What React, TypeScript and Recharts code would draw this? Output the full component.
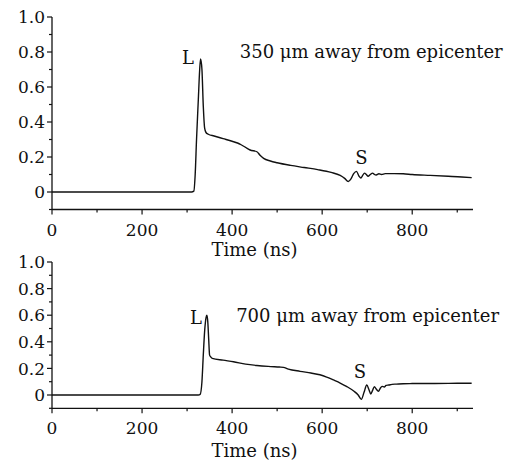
import { LineChart, Line, XAxis, YAxis, ReferenceDot } from "recharts";

const FONT = "DejaVu Serif";
const INK = "#111";

// x ticks (ns) and y ticks (signal)
const X_TICKS = [0, 100, 200, 300, 400, 500, 600, 700, 800, 900];
const Y_TICKS = [-0.1, 0, 0.1, 0.2, 0.3, 0.4, 0.5, 0.6, 0.7, 0.8, 0.9, 1.0];

// 350 um trace
const TOP_T = [
  0, 310, 315, 318, 321, 325, 328, 330, 333, 336, 339, 342, 347, 360, 380, 400,
  412, 420, 430, 440, 455, 462, 470, 485, 500, 530, 560, 590, 620, 640, 650, 658,
  664, 670, 676, 682, 686, 690, 694, 698, 702, 707, 712, 716, 720, 726, 732, 740,
  760, 780, 800, 840, 880, 910, 932,
];
const TOP_V = [
  0, 0, 0.005, 0.1, 0.3, 0.53, 0.7, 0.76, 0.7, 0.49, 0.365, 0.34, 0.33, 0.32, 0.305, 0.29,
  0.28, 0.27, 0.255, 0.24, 0.23, 0.21, 0.192, 0.177, 0.167, 0.152, 0.14, 0.128, 0.112, 0.095, 0.078, 0.06,
  0.075, 0.105, 0.118, 0.09, 0.08, 0.095, 0.108, 0.1, 0.09, 0.1, 0.108, 0.1, 0.097, 0.104, 0.1, 0.105,
  0.105, 0.104, 0.1, 0.095, 0.09, 0.086, 0.082,
];

// 700 um trace
const BOT_T = [
  0, 325, 329, 333, 336, 339, 342, 344, 346, 348, 350, 353, 356, 380, 403, 430,
  455, 480, 505, 514, 525, 551, 575, 595, 610, 625, 640, 655, 670, 680, 687, 693,
  699, 704, 708, 712, 716, 720, 725, 729, 733, 738, 742, 748, 755, 765, 780, 800,
  850, 900, 932,
];
const BOT_V = [
  0, 0, 0.005, 0.1, 0.3, 0.48, 0.58, 0.6, 0.55, 0.42, 0.3, 0.285, 0.276, 0.262, 0.25, 0.232,
  0.222, 0.215, 0.21, 0.208, 0.195, 0.178, 0.165, 0.152, 0.135, 0.113, 0.09, 0.063, 0.03, 0, -0.033, 0.02,
  0.075, 0.04, 0.008, 0.035, 0.063, 0.045, 0.028, 0.05, 0.065, 0.06, 0.072, 0.075, 0.08, 0.082, 0.085, 0.086,
  0.087, 0.088, 0.088,
];

const toRows = (ts: number[], vs: number[]) => ts.map((t, i) => ({ t, v: vs[i] }));

const YTick = (props: any) => {
  const { x, y, payload } = props;
  const n = Math.round(payload.value * 10);
  const major = n >= 0 && n % 2 === 0;
  return (
    <g>
      <line x1={x - (major ? 5 : 3)} x2={x} y1={y} y2={y} stroke={INK} strokeWidth={1.2} />
      {major && (
        <text x={x - 7} y={y} dy="0.36em" textAnchor="end" fontFamily={FONT} fontSize={17} fill={INK}>
          {n === 0 ? "0" : (n / 10).toFixed(1)}
        </text>
      )}
    </g>
  );
};

const XTick = (props: any) => {
  const { x, y, payload } = props;
  const major = payload.value % 200 === 0;
  return (
    <g>
      <line x1={x} x2={x} y1={y} y2={y + (major ? 5 : 3)} stroke={INK} strokeWidth={1.2} />
      {major && (
        <text x={x} y={y + 26} textAnchor="middle" fontFamily={FONT} fontSize={17} fill={INK}>
          {payload.value}
        </text>
      )}
    </g>
  );
};

const textLabel = (value: string) => ({
  value,
  position: "center" as const,
  fill: INK,
  fontSize: 18,
  fontFamily: FONT,
});

interface PanelProps {
  rows: { t: number; v: number }[];
  top: number;
  height: number;
  plotTop: number;
  plotHeight: number;
  caption: string;
  captionAt: [number, number];
  lAt: [number, number];
  sAt: [number, number];
}

function Panel({ rows, top, height, plotTop, plotHeight, caption, captionAt, lAt, sAt }: PanelProps) {
  const axisH = height - plotTop - plotHeight;
  return (
    <div style={{ position: "absolute", left: 0, top }}>
      <LineChart width={515} height={height} data={rows} margin={{ top: plotTop, right: 42, left: 0, bottom: 0 }}>
        <XAxis
          type="number"
          dataKey="t"
          domain={[0, 935]}
          ticks={X_TICKS}
          interval={0}
          height={axisH}
          tickSize={0}
          tickMargin={0}
          tick={<XTick />}
          axisLine={{ stroke: INK, strokeWidth: 1.3 }}
          allowDataOverflow
          label={{
            value: "Time (ns)",
            position: "insideBottom",
            offset: 6,
            dx: -8,
            fill: INK,
            fontSize: 18,
            fontFamily: FONT,
          }}
        />
        <YAxis
          type="number"
          domain={[-0.1, 1.0]}
          ticks={Y_TICKS}
          interval={0}
          width={52}
          tickSize={0}
          tickMargin={0}
          tick={<YTick />}
          axisLine={{ stroke: INK, strokeWidth: 1.3 }}
          allowDataOverflow
        />
        <Line
          type="monotone"
          dataKey="v"
          stroke={INK}
          strokeWidth={1.4}
          dot={false}
          isAnimationActive={false}
        />
        <ReferenceDot x={lAt[0]} y={lAt[1]} r={0} fill="none" stroke="none" label={textLabel("L")} />
        <ReferenceDot x={sAt[0]} y={sAt[1]} r={0} fill="none" stroke="none" label={textLabel("S")} />
        <ReferenceDot x={captionAt[0]} y={captionAt[1]} r={0} fill="none" stroke="none" label={textLabel(caption)} />
      </LineChart>
    </div>
  );
}

export default function App() {
  return (
    <div style={{ position: "absolute", left: 0, top: 0, width: 515, height: 463, background: "#fff" }}>
      <Panel
        rows={toRows(TOP_T, TOP_V)}
        top={0}
        height={262}
        plotTop={17}
        plotHeight={192.5}
        caption="350 μm away from epicenter"
        captionAt={[709, 0.8]}
        lAt={[302, 0.766]}
        sAt={[687, 0.194]}
      />
      <Panel
        rows={toRows(BOT_T, BOT_V)}
        top={240}
        height={223}
        plotTop={22}
        plotHeight={146.3}
        caption="700 μm away from epicenter"
        captionAt={[701, 0.594]}
        lAt={[320, 0.579]}
        sAt={[684, 0.173]}
      />
    </div>
  );
}
